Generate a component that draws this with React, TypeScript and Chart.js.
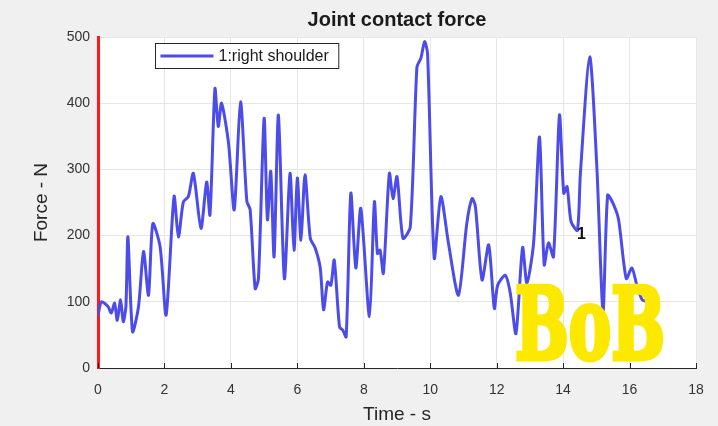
import { useEffect, useRef } from 'react';
import { Chart, registerables } from 'chart.js';

Chart.register(...registerables);

const chartTitle = 'Joint contact force';
const seriesLabel = '1:right shoulder';
const xAxisTitle = 'Time - s';
const yAxisTitle = 'Force - N';

// Sampled joint force over time (s, N)
const timeS = [
  0.0, 0.1, 0.3, 0.4, 0.5, 0.58, 0.68, 0.76, 0.84, 0.9,
  1.04, 1.22, 1.37, 1.52, 1.65, 1.87, 2.05, 2.29, 2.42, 2.57,
  2.72, 2.87, 3.1, 3.27, 3.37, 3.52, 3.62, 3.72, 3.93, 4.1,
  4.29, 4.48, 4.58, 4.73, 4.83, 5.0, 5.1, 5.2, 5.3, 5.43,
  5.61, 5.78, 5.9, 6.0, 6.11, 6.23, 6.39, 6.54, 6.69, 6.79,
  6.91, 7.01, 7.11, 7.27, 7.37, 7.47, 7.61, 7.76, 7.91, 8.17,
  8.32, 8.41, 8.49, 8.59, 8.77, 8.88, 9.0, 9.18, 9.4, 9.6,
  9.72, 9.83, 9.92, 10.12, 10.32, 10.55, 10.85, 11.1, 11.26, 11.36,
  11.56, 11.76, 11.93, 12.03, 12.26, 12.41, 12.58, 12.78, 12.91, 13.11,
  13.29, 13.43, 13.56, 13.71, 13.89, 14.02, 14.12, 14.24, 14.43, 14.52,
  14.8, 15.02, 15.2, 15.34, 15.5, 15.67, 15.9, 16.07, 16.22, 16.38,
  16.53, 16.75,
];
const forceN = [
  78, 100, 93, 83, 98, 72, 103, 70, 93, 198,
  55, 93, 176, 110, 218, 183, 80, 259, 198, 251,
  259, 294, 211, 281, 231, 422, 365, 400, 339, 239,
  402, 252, 239, 120, 135, 377, 224, 297, 168, 382,
  135, 294, 178, 287, 193, 292, 196, 181, 151, 88,
  130, 125, 163, 62, 57, 47, 264, 151, 241, 78,
  251, 173, 178, 143, 294, 256, 289, 196, 213, 455,
  468, 493, 475, 166, 259, 188, 110, 218, 256, 244,
  133, 186, 90, 125, 140, 113, 52, 182, 128, 188,
  349, 156, 189, 168, 382, 264, 274, 221, 208, 294,
  470, 299, 85, 261, 249, 224, 135, 151, 125, 103,
  100, 90,
];

const xTickValues = [0, 2, 4, 6, 8, 10, 12, 14, 16, 18];
const yTickValues = [0, 100, 200, 300, 400, 500];

// Series tag placed on the curve
const tagText = '1';
const tagTime = 14.55;
const tagForce = 202;

const stampText = 'BoB';

const lineColor = 'rgb(76, 76, 234)';
const sansFamily = '"Liberation Sans", Arial, sans-serif';

const decorPlugin = {
  id: 'decor',
  beforeDraw(chart: any) {
    const { ctx, chartArea: a, width, height } = chart;
    ctx.save();
    ctx.fillStyle = '#f0f0f0';
    ctx.fillRect(0, 0, width, height);
    ctx.fillStyle = '#ffffff';
    ctx.fillRect(a.left, a.top, a.right - a.left, a.bottom - a.top);
    ctx.restore();
  },
  afterDatasetsDraw(chart: any) {
    const { ctx, chartArea: a } = chart;
    const xs = chart.scales.x;
    const ys = chart.scales.y;
    ctx.save();

    // inward tick marks along the time axis
    ctx.strokeStyle = '#262626';
    ctx.lineWidth = 1;
    for (const v of xTickValues) {
      const px = Math.round(xs.getPixelForValue(v)) + 0.5;
      ctx.beginPath();
      ctx.moveTo(px, a.bottom);
      ctx.lineTo(px, a.bottom - 5);
      ctx.stroke();
    }

    // title
    ctx.fillStyle = '#1a1a1a';
    ctx.font = `bold 20px ${sansFamily}`;
    ctx.textAlign = 'center';
    ctx.textBaseline = 'middle';
    ctx.fillText(chartTitle, (a.left + a.right) / 2, a.top - 17);

    // legend box
    const lx = a.left + 57.5;
    const ly = a.top + 6.5;
    ctx.font = `16px ${sansFamily}`;
    const tw = ctx.measureText(seriesLabel).width;
    const bw = 64 + tw + 9;
    ctx.fillStyle = '#ffffff';
    ctx.fillRect(lx, ly, bw, 25);
    ctx.lineWidth = 1;
    ctx.strokeStyle = '#262626';
    ctx.strokeRect(lx, ly, bw, 25);
    ctx.strokeStyle = lineColor;
    ctx.lineWidth = 3;
    ctx.beginPath();
    ctx.moveTo(lx + 5, ly + 12.5);
    ctx.lineTo(lx + 58, ly + 12.5);
    ctx.stroke();
    ctx.fillStyle = '#1a1a1a';
    ctx.textAlign = 'left';
    ctx.fillText(seriesLabel, lx + 63, ly + 13);

    // series tag
    ctx.font = `bold 16px ${sansFamily}`;
    ctx.textAlign = 'center';
    ctx.fillStyle = '#111111';
    ctx.fillText(tagText, xs.getPixelForValue(tagTime), ys.getPixelForValue(tagForce));

    // yellow stamp, heavy slab lettering
    ctx.font = 'bold 100px "DejaVu Serif", serif';
    ctx.textAlign = 'left';
    ctx.textBaseline = 'alphabetic';
    const sw = ctx.measureText(stampText).width;
    const targetW = 150;
    ctx.translate(a.left + 417, a.bottom - 8);
    ctx.scale(targetW / sw, 1);
    ctx.fillStyle = '#fde800';
    ctx.strokeStyle = '#fde800';
    ctx.lineJoin = 'miter';
    ctx.lineWidth = 5;
    ctx.strokeText(stampText, 0, -1);
    ctx.fillText(stampText, 0, -1);

    ctx.restore();
  },
};

export default function App() {
  const canvasRef = useRef<HTMLCanvasElement | null>(null);

  useEffect(() => {
    document.body.style.margin = '0';
    const canvas = canvasRef.current;
    if (!canvas) return;
    const points = timeS.map((t, i) => ({ x: t, y: forceN[i] }));

    const chart = new Chart(canvas, {
      type: 'line',
      data: {
        datasets: [
          {
            label: seriesLabel,
            data: points,
            borderColor: lineColor,
            borderWidth: 3,
            pointRadius: 0,
            tension: 0.25,
            fill: false,
          },
        ],
      },
      options: {
        responsive: false,
        animation: false,
        devicePixelRatio: 1,
        layout: { padding: { top: 37, right: 22, left: 0, bottom: 0 } },
        plugins: {
          legend: { display: false },
          title: { display: false },
          tooltip: { enabled: false },
        },
        scales: {
          x: {
            type: 'linear',
            min: 0,
            max: 18,
            afterBuildTicks: (scale: any) => {
              scale.ticks = xTickValues.map((v) => ({ value: v }));
            },
            afterFit: (scale: any) => {
              scale.height = 58;
            },
            ticks: {
              color: '#333333',
              font: { family: sansFamily, size: 14 },
              padding: 14,
              maxRotation: 0,
              autoSkip: false,
            },
            grid: { color: '#e6e6e6', drawTicks: false, lineWidth: 1 },
            border: { color: '#262626', width: 1 },
            title: {
              display: true,
              text: xAxisTitle,
              color: '#262626',
              font: { family: sansFamily, size: 19 },
              padding: { top: 9, bottom: 0 },
            },
          },
          y: {
            min: 0,
            max: 500,
            afterBuildTicks: (scale: any) => {
              scale.ticks = yTickValues.map((v) => ({ value: v }));
            },
            afterFit: (scale: any) => {
              scale.width = 98;
            },
            ticks: {
              color: '#333333',
              font: { family: sansFamily, size: 14 },
              padding: 8,
              autoSkip: false,
            },
            grid: { color: '#e6e6e6', drawTicks: false, lineWidth: 1 },
            border: { color: '#ff1a1a', width: 3 },
            title: {
              display: true,
              text: yAxisTitle,
              color: '#262626',
              font: { family: sansFamily, size: 19 },
              padding: { top: 30, bottom: 0 },
            },
          },
        },
      },
      plugins: [decorPlugin],
    });

    return () => chart.destroy();
  }, []);

  return (
    <div style={{ position: 'fixed', left: 0, top: 0, width: 718, height: 426, background: '#f0f0f0' }}>
      <canvas ref={canvasRef} width={718} height={426} style={{ display: 'block' }} />
    </div>
  );
}
